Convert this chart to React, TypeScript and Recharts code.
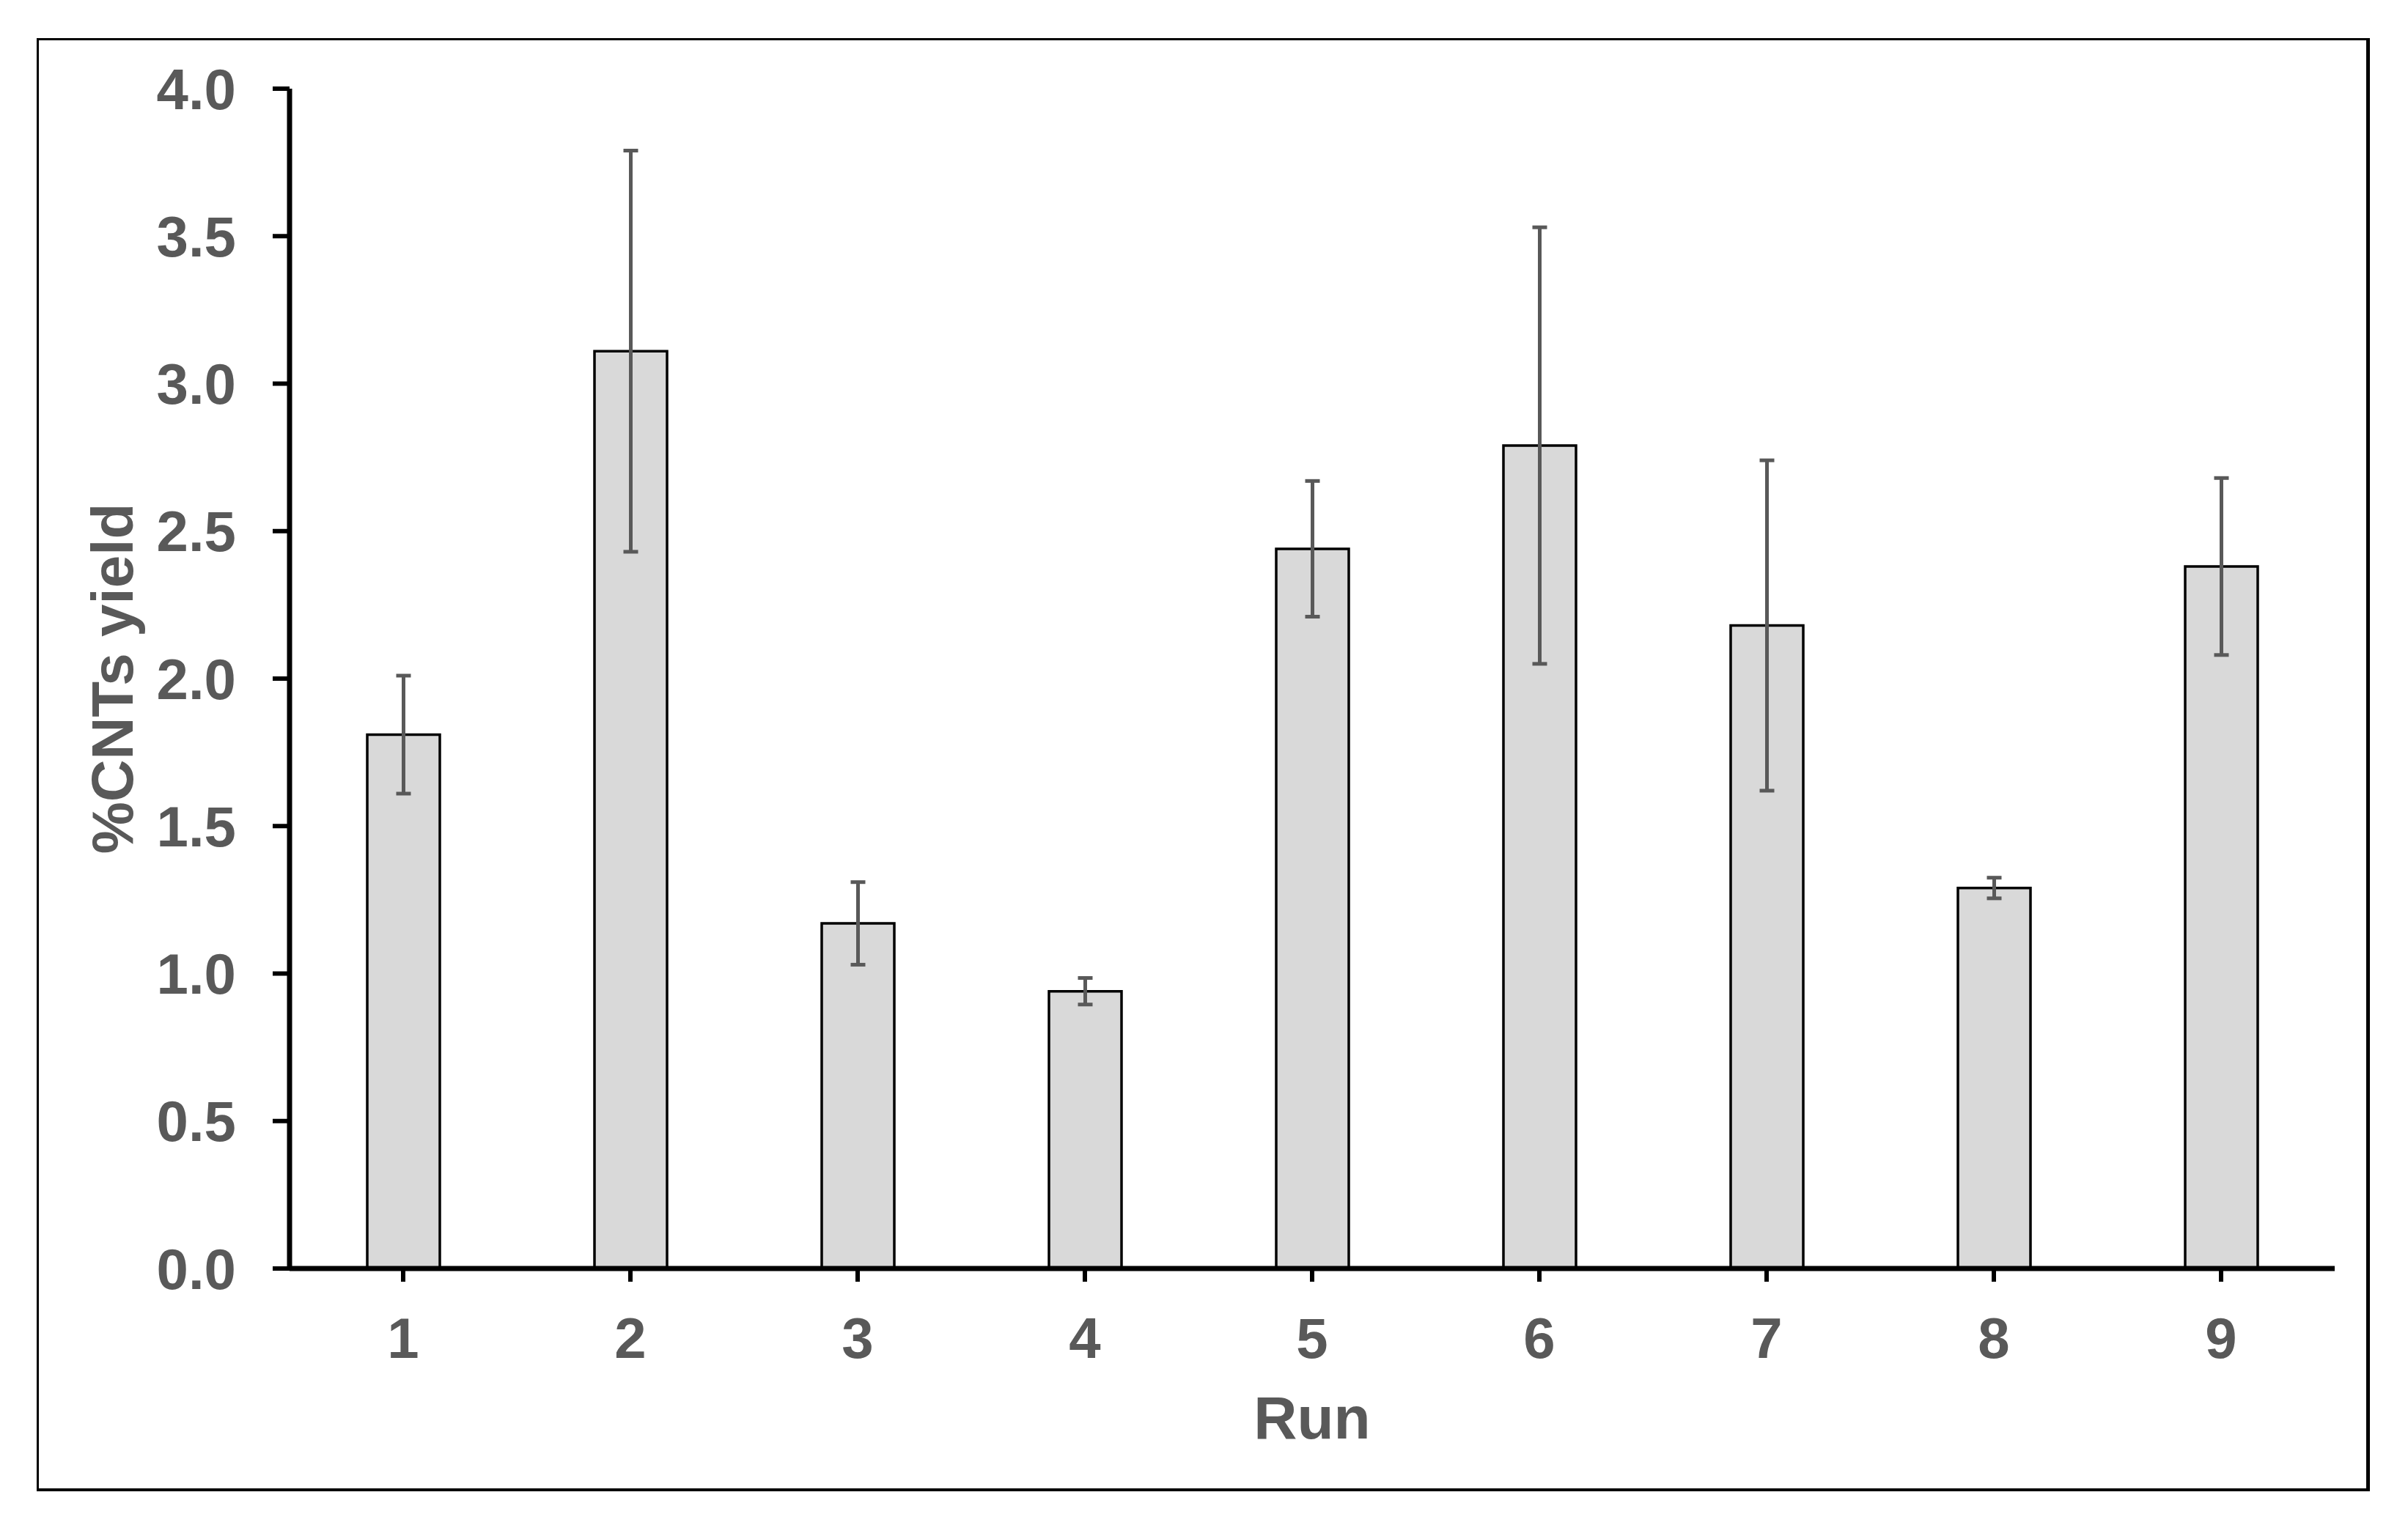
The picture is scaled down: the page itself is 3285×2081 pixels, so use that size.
import { BarChart, Bar, XAxis, YAxis, ErrorBar } from "recharts";

const runs = ["1", "2", "3", "4", "5", "6", "7", "8", "9"];
const yieldValues = [1.81, 3.11, 1.17, 0.94, 2.44, 2.79, 2.18, 1.29, 2.38];
const yieldErrors = [0.2, 0.68, 0.14, 0.045, 0.23, 0.74, 0.56, 0.035, 0.3];
const yTicks = [0, 0.5, 1, 1.5, 2, 2.5, 3, 3.5, 4];

const chartData = runs.map((run, i) => ({
  run,
  value: yieldValues[i],
  err: yieldErrors[i],
}));

const FONT = "'Liberation Sans', Arial, sans-serif";
const TEXT = "#595959";

const tickStyle = {
  fontFamily: FONT,
  fontSize: 78,
  fontWeight: 700,
  fill: TEXT,
};

const YLabel = (props: any) => {
  const vb = props.viewBox || { x: 0, y: 0, width: 0, height: 0 };
  const cx = vb.x + 153;
  const cy = vb.y + vb.height / 2;
  return (
    <text
      x={cx}
      y={cy}
      transform={`rotate(-90, ${cx}, ${cy})`}
      textAnchor="middle"
      dominantBaseline="central"
      style={{ fontFamily: FONT, fontSize: 80, fontWeight: 700, fill: TEXT }}
    >
      %CNTs yield
    </text>
  );
};

export default function App() {
  return (
    <div style={{ position: "absolute", left: 0, top: 0, width: 3285, height: 2081, background: "#fff" }}>
      <div
        style={{
          position: "absolute",
          left: 50,
          top: 52,
          width: 3183,
          height: 1983,
          boxSizing: "border-box",
          borderStyle: "solid",
          borderColor: "#000",
          borderWidth: "3px 5px 4px 3px",
        }}
      />
      <div style={{ position: "absolute", left: 0, top: 0 }}>
        <BarChart
          width={3285}
          height={2081}
          data={chartData}
          margin={{ top: 121, right: 100, left: 0, bottom: 0 }}
          barSize={99}
        >
          <XAxis
            dataKey="run"
            height={350}
            axisLine={{ stroke: "#000", strokeWidth: 7 }}
            tickLine={{ stroke: "#000", strokeWidth: 6 }}
            tickSize={18}
            tickMargin={49}
            tick={tickStyle}
            label={{
              value: "Run",
              position: "insideBottom",
              offset: 118,
              style: { fontFamily: FONT, fontSize: 82, fontWeight: 700, fill: TEXT },
            }}
          />
          <YAxis
            width={395}
            domain={[0, 4]}
            ticks={yTicks}
            interval={0}
            tickFormatter={(v: number) => v.toFixed(1)}
            axisLine={{ stroke: "#000", strokeWidth: 7 }}
            tickLine={{ stroke: "#000", strokeWidth: 6 }}
            tickSize={23}
            tickMargin={50}
            tick={tickStyle}
            label={<YLabel />}
          />
          <Bar
            dataKey="value"
            fill="#d9d9d9"
            stroke="#000"
            strokeWidth={3.5}
            isAnimationActive={false}
          >
            <ErrorBar
              dataKey="err"
              width={10}
              stroke="#595959"
              strokeWidth={5}
              isAnimationActive={false}
            />
          </Bar>
        </BarChart>
      </div>
    </div>
  );
}
